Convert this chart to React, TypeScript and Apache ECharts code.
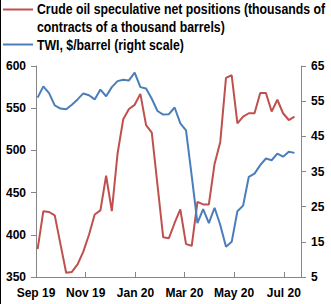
import React, { useEffect, useRef } from "react";
import * as echarts from "echarts";

const dates = [
  "2019-09-03", "2019-09-10", "2019-09-17", "2019-09-24", "2019-10-01", "2019-10-08",
  "2019-10-15", "2019-10-22", "2019-10-29", "2019-11-05", "2019-11-12", "2019-11-19",
  "2019-11-26", "2019-12-03", "2019-12-10", "2019-12-17", "2019-12-24", "2019-12-31",
  "2020-01-07", "2020-01-14", "2020-01-21", "2020-01-28", "2020-02-04", "2020-02-11",
  "2020-02-18", "2020-02-25", "2020-03-03", "2020-03-10", "2020-03-17", "2020-03-24",
  "2020-03-31", "2020-04-07", "2020-04-14", "2020-04-21", "2020-04-28", "2020-05-05",
  "2020-05-12", "2020-05-19", "2020-05-26", "2020-06-02", "2020-06-09", "2020-06-16",
  "2020-06-23", "2020-06-30", "2020-07-07", "2020-07-14",
];

const netPositions = [
  383, 428, 427, 423, 389, 355, 356, 365, 380, 400, 424, 429,
  470, 428, 496, 537, 549, 554, 567, 530, 521, 459, 397, 396,
  414, 430, 389, 387, 439, 436, 436, 484, 510, 586, 589, 532,
  540, 544, 544, 568, 568, 546, 560, 544, 536, 540,
];

const twiPrice = [
  56.0, 59.2, 57.3, 53.8, 52.9, 52.7, 54.0, 55.5, 57.2, 56.7, 55.5, 58.3,
  56.4, 59.0, 60.7, 61.1, 60.9, 63.1, 59.0, 58.6, 55.7, 52.2, 51.2, 51.3,
  53.2, 48.7, 46.7, 33.7, 20.3, 24.3, 20.3, 24.7, 19.8, 13.6, 15.0, 23.7,
  25.3, 33.5, 34.4, 36.8, 38.7, 38.2, 40.1, 39.2, 40.6, 40.3,
];

const xTickDates = ["2019-09-01", "2019-11-01", "2020-01-01", "2020-03-01", "2020-05-01", "2020-07-01"];
const xTickLabels = ["Sep 19", "Nov 19", "Jan 20", "Mar 20", "May 20", "Jul 20"];
const xMin = "2019-09-01";
const xMax = "2020-07-22";
const leftTicks = [350, 400, 450, 500, 550, 600];
const rightTicks = [5, 15, 25, 35, 45, 55, 65];

const legendRed = "Crude oil speculative net positions (thousands of\ncontracts of a thousand barrels)";
const legendBlue = "TWI, $/barrel (right scale)";

const RED = "#C0504D";
const BLUE = "#4A7EBB";
const AXIS = "#868686";
const LABEL_FONT = '"Liberation Sans", Arial, sans-serif';

const DAY = 86400000;
function dayNum(s: string): number {
  const [y, m, d] = s.split("-").map(Number);
  return Math.round(Date.UTC(y, m - 1, d) / DAY);
}
const base = dayNum(xMin);
const dayOf = (s: string) => dayNum(s) - base;

export default function App() {
  const ref = useRef<HTMLDivElement>(null);

  useEffect(() => {
    if (!ref.current) return;
    const chart = echarts.init(ref.current, undefined, { renderer: "svg" });
    const labelStyle = {
      color: "#000",
      fontFamily: LABEL_FONT,
      fontWeight: "bold" as const,
      fontSize: 12,
    };
    const xTickVals = xTickDates.map(dayOf);
    chart.setOption({
      animation: false,
      backgroundColor: "#fff",
      grid: { left: 36, right: 30, top: 66, bottom: 27, containLabel: false },
      xAxis: {
        type: "value",
        min: 0,
        max: dayOf(xMax),
        splitLine: { show: false },
        axisLine: { show: true, lineStyle: { color: AXIS, width: 1 } },
        axisTick: {
          show: true,
          inside: true,
          length: 5,
          lineStyle: { color: AXIS },
          customValues: xTickVals,
        },
        axisLabel: {
          ...labelStyle,
          margin: 10,
          customValues: xTickVals,
          formatter: (v: number) => {
            const i = xTickVals.indexOf(Math.round(v));
            return i >= 0 ? xTickLabels[i] : "";
          },
        },
      },
      yAxis: [
        {
          type: "value",
          min: 350,
          max: 600,
          interval: 50,
          position: "left",
          splitLine: { show: false },
          axisLine: { show: true, lineStyle: { color: AXIS } },
          axisTick: { show: true, length: 5, lineStyle: { color: AXIS }, customValues: leftTicks },
          axisLabel: { ...labelStyle, margin: 10, customValues: leftTicks },
        },
        {
          type: "value",
          min: 5,
          max: 65,
          position: "right",
          splitLine: { show: false },
          axisLine: { show: true, lineStyle: { color: AXIS } },
          axisTick: { show: true, length: 5, lineStyle: { color: AXIS }, customValues: rightTicks },
          axisLabel: { ...labelStyle, margin: 10, customValues: rightTicks },
        },
      ],
      series: [
        {
          name: "Crude oil speculative net positions",
          type: "line",
          yAxisIndex: 0,
          data: dates.map((d, i) => [dayOf(d), netPositions[i]]),
          showSymbol: false,
          lineStyle: { color: RED, width: 2 },
          itemStyle: { color: RED },
        },
        {
          name: "TWI, $/barrel",
          type: "line",
          yAxisIndex: 1,
          data: dates.map((d, i) => [dayOf(d), twiPrice[i]]),
          showSymbol: false,
          lineStyle: { color: BLUE, width: 2 },
          itemStyle: { color: BLUE },
        },
      ],
      graphic: [
        { type: "rect", shape: { x: 0, y: 0, width: 1, height: 304 }, style: { fill: "#000" } },
        { type: "line", shape: { x1: 3, y1: 9.5, x2: 33, y2: 9.5 }, style: { stroke: RED, lineWidth: 2 } },
        {
          type: "text",
          x: 37,
          y: 0,
          scaleX: 0.82,
          style: {
            text: legendRed,
            font: `bold 15px ${LABEL_FONT}`,
            fill: "#000",
            lineHeight: 18,
            verticalAlign: "top",
          },
        },
        { type: "line", shape: { x1: 3, y1: 44.5, x2: 33, y2: 44.5 }, style: { stroke: BLUE, lineWidth: 2 } },
        {
          type: "text",
          x: 37,
          y: 36,
          scaleX: 0.82,
          style: {
            text: legendBlue,
            font: `bold 15px ${LABEL_FONT}`,
            fill: "#000",
            lineHeight: 18,
            verticalAlign: "top",
          },
        },
      ],
    });
    return () => chart.dispose();
  }, []);

  return (
    <div
      ref={ref}
      style={{ position: "fixed", left: 0, top: 0, width: 331, height: 304 }}
    />
  );
}
